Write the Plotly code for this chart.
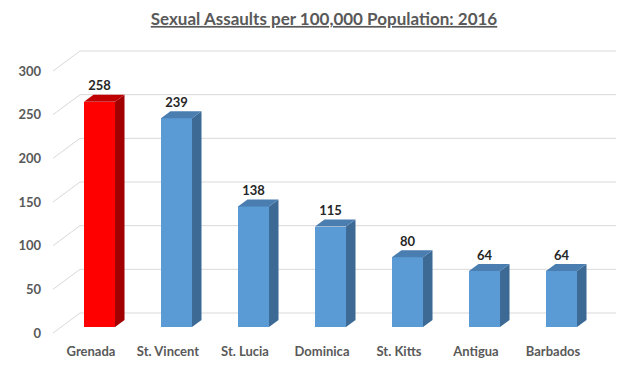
import plotly.graph_objects as go

# ---- data ----
categories = ["Grenada", "St. Vincent", "St. Lucia", "Dominica", "St. Kitts", "Antigua", "Barbados"]
values = [258, 239, 138, 115, 80, 64, 64]
highlight = ["Grenada"]
y_ticks = [0, 50, 100, 150, 200, 250, 300]

# ---- layout constants (pixels) ----
W, H = 620, 368
ML, MR, MT, MB = 45, 0, 40, 28
PX_X = 77.0          # px per category
PX_Y = 0.8733        # px per unit value
CAT0_PX = 99.5       # pixel centre of first category (absolute)
ZERO_PX = 327.0      # pixel of value 0 on bar front plane (absolute)
BAR_W = 0.403
FLOOR_DX, FLOOR_DY = 27.0, 20.0   # full floor depth in px
BAR_FRONT_D = 0.30                # depth of bar front plane (fraction)
BAR_DX, BAR_DY = 9.5, 7.0         # bar depth in px
WALL_LEFT_PX = 53.0
WALL_RIGHT_PX = 616.0

plot_w = W - ML - MR
plot_h = H - MT - MB
xmin = -(CAT0_PX - ML) / PX_X
xmax = xmin + plot_w / PX_X
ymin = -((H - MB) - ZERO_PX) / PX_Y
ymax = ymin + plot_h / PX_Y

def dx(px):
    return px / PX_X

def dy(px):
    return px / PX_Y

# colours
RED = dict(front="#FF0000", side="#A00000", top="#C00000")
BLUE = dict(front="#5B9BD5", side="#3C6A95", top="#4A7DB0")
GRID = "#D9D9D9"
TXT = "#595959"

fig = go.Figure()

# gridlines (left wall + back wall) as shapes below the traces
front_off_y = BAR_FRONT_D * FLOOR_DY
back_off_y = -(1 - BAR_FRONT_D) * FLOOR_DY
xl_front = (WALL_LEFT_PX - CAT0_PX) / PX_X
xl_back = (WALL_LEFT_PX + FLOOR_DX - CAT0_PX) / PX_X
xr_back = (WALL_RIGHT_PX - CAT0_PX) / PX_X
for v in y_ticks:
    yf = v - dy(front_off_y)
    yb = v - dy(back_off_y)
    fig.add_shape(type="path", xref="x", yref="y", layer="below",
                  path=f"M {xl_front},{yf} L {xl_back},{yb} L {xr_back},{yb}",
                  line=dict(color=GRID, width=1))

# 3D bars: side and top faces
hw = BAR_W / 2
for i, (c, v) in enumerate(zip(categories, values)):
    col = RED if c in highlight else BLUE
    ddx, ddy = dx(BAR_DX), dy(BAR_DY)
    sx = [i + hw, i + hw + ddx, i + hw + ddx, i + hw, i + hw]
    sy = [0, ddy, v + ddy, v, 0]
    fig.add_trace(go.Scatter(x=sx, y=sy, fill="toself", fillcolor=col["side"], mode="lines",
                             line=dict(width=0, color=col["side"]), hoverinfo="skip", showlegend=False))
    tx = [i - hw, i + hw, i + hw + ddx, i - hw + ddx, i - hw]
    ty = [v, v, v + ddy, v + ddy, v]
    fig.add_trace(go.Scatter(x=tx, y=ty, fill="toself", fillcolor=col["top"], mode="lines",
                             line=dict(width=0, color=col["top"]), hoverinfo="skip", showlegend=False))

# front faces
fig.add_trace(go.Bar(x=list(range(len(categories))), y=values, width=BAR_W,
                     marker=dict(color=[RED["front"] if c in highlight else BLUE["front"] for c in categories],
                                 line=dict(width=0)),
                     hoverinfo="skip", showlegend=False))

# data labels
fig.add_trace(go.Scatter(x=list(range(len(categories))), y=[v + dy(14.5) for v in values],
                         mode="text", text=[str(v) for v in values], textposition="middle center",
                         textfont=dict(family="Lato", size=13, color="#262626", weight="bold"),
                         hoverinfo="skip", showlegend=False))

fig.update_layout(
    width=W, height=H,
    margin=dict(l=ML, r=MR, t=MT, b=MB),
    paper_bgcolor="white", plot_bgcolor="white",
    title=dict(text="Sexual Assaults per 100,000 Population: 2016",
               x=324 / W, xanchor="center", y=1 - 19 / H, yanchor="middle", yref="container",
               font=dict(family="Lato", size=17, color=TXT, weight="bold", lineposition="under")),
    xaxis=dict(range=[xmin, xmax], showgrid=False, zeroline=False, showline=False,
               tickvals=[i - dx(8.5) for i in range(len(categories))], ticktext=categories,
               tickfont=dict(family="Lato", size=13, color=TXT, weight="bold"), ticks="",
               ticklabelstandoff=2),
    yaxis=dict(range=[ymin, ymax], showgrid=False, zeroline=False, showline=False,
               tickvals=[v - dy(front_off_y) for v in y_ticks], ticktext=[str(v) for v in y_ticks],
               tickfont=dict(family="Lato", size=13, color=TXT, weight="bold"), ticks="",
               ticklabelstandoff=3),
    bargap=0,
)

fig.write_html("out.html", config={"displayModeBar": False},
               post_script="document.body.style.margin='0';")
